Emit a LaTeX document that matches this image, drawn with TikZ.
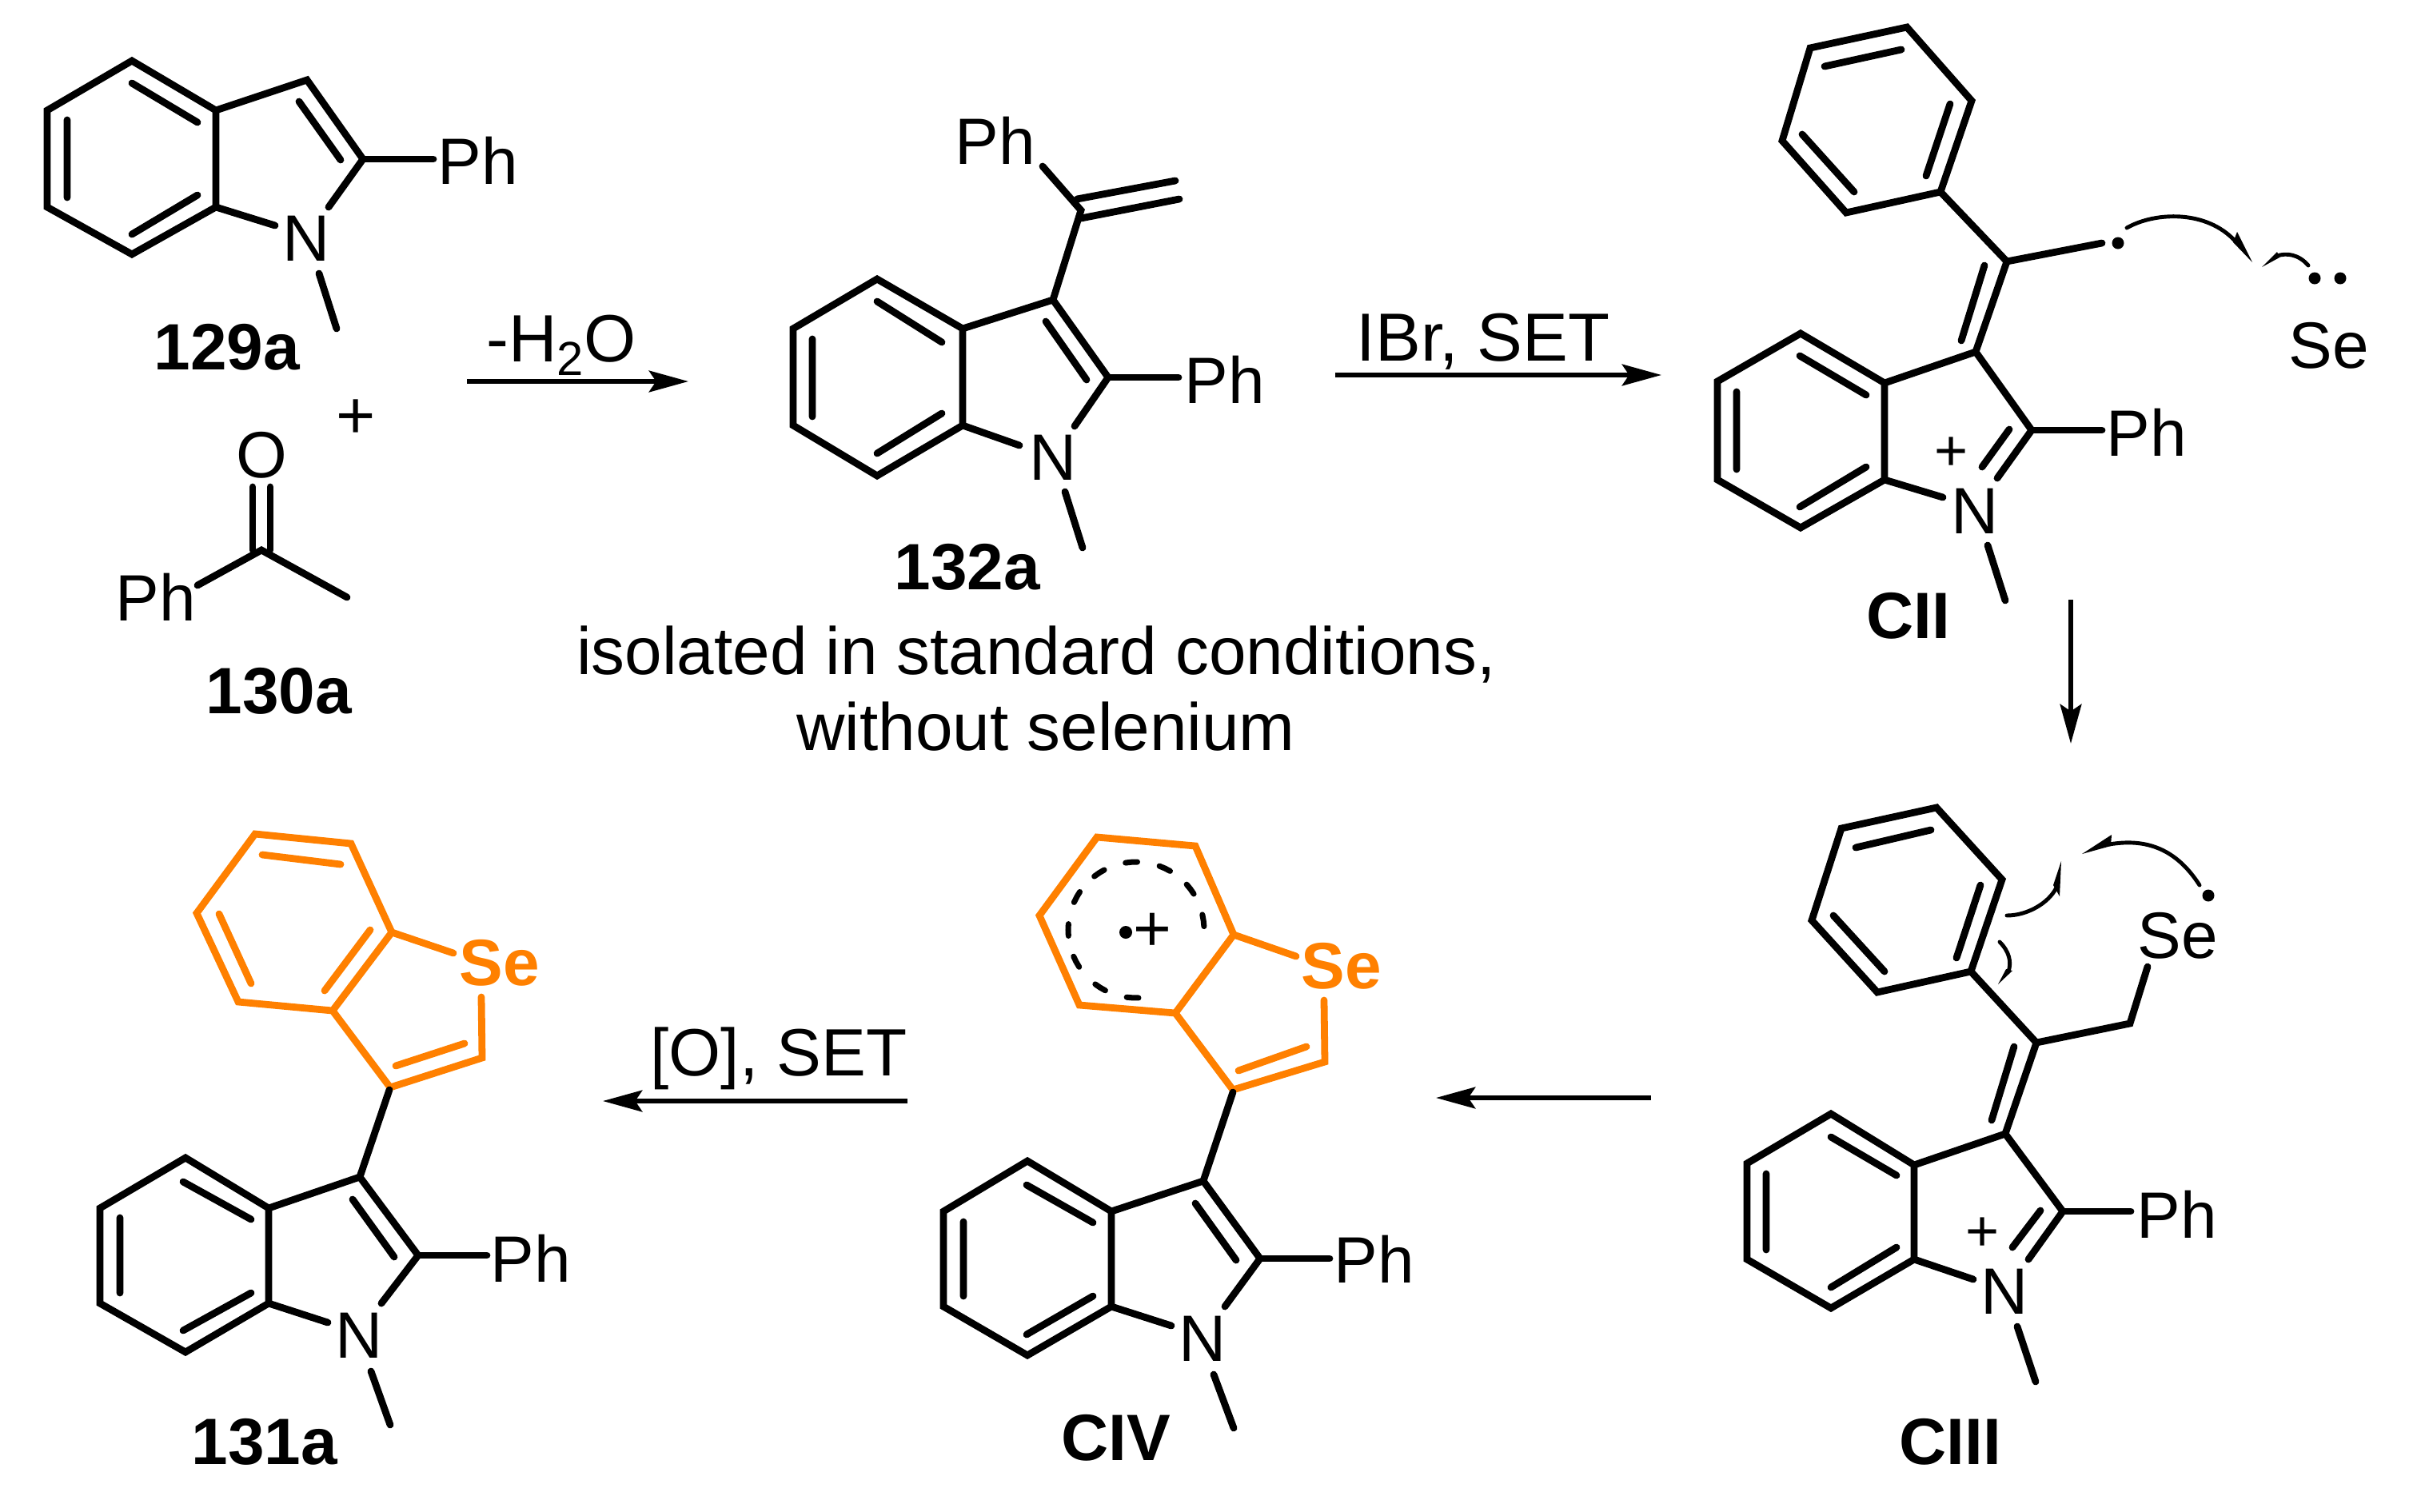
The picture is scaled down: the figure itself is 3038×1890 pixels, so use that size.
\documentclass[tikz,border=0pt]{standalone}
\usepackage{fontspec}
\setmainfont{Liberation Sans}
\usetikzlibrary{arrows.meta}
\newcommand\fs{\fontsize{23.3}{28}\selectfont}
\newcommand\fa{\fontsize{23.8}{28}\selectfont}
\definecolor{se}{HTML}{FF8000}
\tikzset{
  bond/.style={line width=2.5pt,line cap=round,line join=miter},
  obond/.style={bond,draw=se},
  txt/.style={inner sep=0pt,anchor=base,font=\fs},
  ann/.style={inner sep=0pt,anchor=base,font=\fa},
  lab/.style={inner sep=0pt,anchor=base,font=\fs\bfseries},
  selab/.style={inner sep=0pt,anchor=base,font=\fs\bfseries,text=se},
  pl/.style={inner sep=0pt,anchor=center,font=\fontsize{20.5}{24}\selectfont},
  rxn/.style={line width=1.6pt,-{Stealth[length=14pt,width=7.6pt,inset=2.5pt]}},
  hook/.style={line width=1.4pt,line cap=round},
}
\begin{document}
\begin{tikzpicture}[x=0.01cm,y=-0.01cm]
\useasboundingbox (0,0) rectangle (3038,1890);
% ---------- 129a
\draw[bond] (165,76)--(59,138)--(59,259)--(165,318)--(270,259)--(270,138)--cycle;
\draw[bond] (270,138)--(384,100)--(454,199)--(411,259);
\draw[bond] (270,259)--(344,282);
\draw[bond] (454,199)--(542,199);
\draw[bond] (399,342)--(421,411);
\draw[bond] (165,104)--(247,153) (84,150)--(84,247) (165,293)--(247,244) (374,127)--(426,200);
\node[txt] (ph1) at (598,230) {Ph};
\node[txt] (n1) at (383,326) {N};
\node[lab] (l129) at (284,462) {129a};
\node[pl,font=\fontsize{24}{28}\selectfont] (plus) at (445,524) {+};
% ---------- 130a
\node[txt] (o130) at (327,597) {O};
\draw[bond] (316,609)--(316,688) (338,609)--(338,688);
\draw[bond] (247,732)--(327,688)--(434,747);
\node[txt] (ph2) at (195,776) {Ph};
\node[lab] (l130) at (349,892) {130a};
% ---------- arrow 1
\coordinate (a1s) at (584,477); \coordinate (a1e) at (861,477);
\draw[rxn] (a1s)--(a1e);
\node[ann] (t1) at (702,452) {-H\raisebox{-5pt}{\fontsize{17}{20}\selectfont 2}O};
% ---------- 132a
\draw[bond] (1097,349)--(992,411)--(992,532)--(1097,595)--(1204,532)--(1204,411)--cycle;
\draw[bond] (1204,411)--(1317,375)--(1386,472)--(1344,533);
\draw[bond] (1204,532)--(1275,557);
\draw[bond] (1386,472)--(1474,472);
\draw[bond] (1332,615)--(1354,685);
\draw[bond] (1097,377)--(1178,428) (1016,424)--(1016,521) (1097,567)--(1178,517) (1308,402)--(1359,475);
\draw[bond] (1317,375)--(1352,263)--(1304,208);
\draw[bond] (1347,249)--(1470,226) (1352,273)--(1475,249);
\node[txt] (ph3) at (1245,205) {Ph};
\node[txt] (ph4) at (1532,504) {Ph};
\node[txt] (n3) at (1317,600) {N};
\node[lab] (l132) at (1210,737) {132a};
\node[ann] (c1) at (1296,843) {isolated in standard conditions,};
\node[ann] (c2) at (1308,938) {without selenium};
% ---------- arrow 2
\coordinate (a2s) at (1670,469); \coordinate (a2e) at (2078,469);
\draw[rxn] (a2s)--(a2e);
\node[ann,font=\fontsize{24.2}{28}\selectfont] (t2) at (1855,451) {IBr, SET};
% ---------- CII
\draw[bond] (2385,34)--(2264,60)--(2229,176)--(2309,266)--(2427,240)--(2466,126)--cycle;
\draw[bond] (2282,83)--(2378,62) (2254,168)--(2319,240) (2409,220)--(2439,130);
\draw[bond] (2427,240)--(2510,327)--(2629,304);
\draw[bond] (2510,327)--(2471,440) (2453,426)--(2482,332);
\draw[bond] (2252,417)--(2148,477)--(2148,600)--(2252,660)--(2357,600)--(2357,479)--cycle;
\draw[bond] (2251,445)--(2334,494) (2172,490)--(2172,587) (2251,634)--(2334,584);
\draw[bond] (2357,479)--(2471,440)--(2541,538)--(2498,598);
\draw[bond] (2513,537)--(2479,584);
\draw[bond] (2357,600)--(2430,622);
\draw[bond] (2541,538)--(2629,538);
\draw[bond] (2486,682)--(2508,751);
\node[txt] (ph5) at (2685,570) {Ph};
\node[txt] (n5) at (2470,667) {N};
\node[pl] (p5) at (2441,568) {+};
\node[lab] (lc2) at (2387,798) {CII};
\node[txt] (se5) at (2913,460) {Se};
\fill (2649,304) circle[radius=7.5];
\fill (2895,348) circle[radius=7.5];
\fill (2927,348) circle[radius=7.5];
\draw[hook] (2660,285) .. controls (2695,265) and (2760,262) .. (2796,302);
\fill (2817,328)--(2798,290)--(2793,303)--cycle;
\draw[hook] (2887,332) .. controls (2875,318) and (2860,316) .. (2848,320);
\fill (2829,334)--(2848,315)--(2851,322)--cycle;
% ---------- arrow 3
\coordinate (a3s) at (2590,750); \coordinate (a3e) at (2590,930);
\draw[rxn] (a3s)--(a3e);
% ---------- CIII
\draw[bond] (2422,1010)--(2303,1036)--(2266,1151)--(2348,1241)--(2465,1215)--(2504,1100)--cycle;
\draw[bond] (2321,1060)--(2415,1038) (2293,1145)--(2357,1215) (2447,1198)--(2477,1107);
\draw[bond] (2465,1215)--(2547,1304)--(2664,1280)--(2686,1209);
\draw[bond] (2547,1304)--(2508,1418) (2491,1401)--(2519,1309);
\draw[bond] (2290,1393)--(2185,1455)--(2185,1575)--(2290,1636)--(2394,1575)--(2394,1457)--cycle;
\draw[bond] (2290,1422)--(2372,1470) (2209,1468)--(2209,1563) (2290,1610)--(2372,1560);
\draw[bond] (2394,1457)--(2508,1418)--(2580,1515)--(2537,1575);
\draw[bond] (2552,1514)--(2517,1560);
\draw[bond] (2394,1575)--(2468,1600);
\draw[bond] (2580,1515)--(2665,1515);
\draw[bond] (2523,1659)--(2546,1728);
\node[txt] (ph6) at (2723,1548) {Ph};
\node[txt] (n6) at (2507,1643) {N};
\node[pl] (p6) at (2480,1544) {+};
\node[txt] (se6) at (2724,1198) {Se};
\node[lab] (lc3) at (2439,1831) {CIII};
\fill (2762,1120) circle[radius=7.5];
\draw[hook] (2751,1107) .. controls (2722,1062) and (2685,1048) .. (2638,1056);
\fill (2604,1068)--(2641,1044)--(2640,1058)--cycle;
\draw[hook] (2510,1145) .. controls (2535,1145) and (2562,1130) .. (2572,1110);
\fill (2578,1077)--(2576,1121)--(2568,1107)--cycle;
\draw[hook] (2501,1178) .. controls (2513,1190) and (2516,1203) .. (2512,1215);
\fill (2499,1231)--(2517,1214)--(2509,1212)--cycle;
% ---------- arrow 4
\coordinate (a4s) at (2065,1373); \coordinate (a4e) at (1796,1373);
\draw[rxn] (a4s)--(a4e);
% ---------- CIV
\draw[obond] (1372,1047)--(1495,1058)--(1543,1169)--(1470,1267)--(1350,1257)--(1300,1145)--cycle;
\draw[obond] (1470,1267)--(1542,1363)--(1657,1328)--(1656,1251);
\draw[obond] (1543,1169)--(1621,1196);
\draw[obond] (1549,1339)--(1634,1309);
\foreach \a in {8,37,65,94,123,151,180,208,238,267}
  \draw[line width=2pt,line cap=round] ({1421+85*cos(\a-5)},{1163-85*sin(\a-5)})--({1421+85*cos(\a)},{1163-85*sin(\a)})--({1421+85*cos(\a+5)},{1163-85*sin(\a+5)});
\fill (1408,1166) circle[radius=8];
\node[pl,font=\fontsize{23.3}{28}\selectfont] (p7) at (1441,1166) {+};
\node[selab] (se7) at (1678,1236) {Se};
\draw[bond] (1542,1366)--(1505,1477);
\draw[bond] (1285,1452)--(1180,1515)--(1180,1634)--(1285,1695)--(1390,1634)--(1390,1515)--cycle;
\draw[bond] (1284,1482)--(1367,1529) (1205,1528)--(1205,1621) (1284,1669)--(1367,1621);
\draw[bond] (1390,1515)--(1505,1477)--(1576,1574)--(1532,1634);
\draw[bond] (1495,1505)--(1546,1576);
\draw[bond] (1390,1634)--(1465,1658);
\draw[bond] (1576,1574)--(1663,1574);
\draw[bond] (1518,1719)--(1543,1786);
\node[txt] (ph7) at (1719,1604) {Ph};
\node[txt] (n7) at (1504,1702) {N};
\node[lab] (lc4) at (1396,1826) {CIV};
% ---------- arrow 5
\coordinate (a5s) at (1135,1377); \coordinate (a5e) at (754,1377);
\draw[rxn] (a5s)--(a5e);
\node[ann] (t5) at (974,1345) {[O], SET};
% ---------- 131a
\draw[obond] (319,1043)--(439,1055)--(490,1166)--(416,1264)--(298,1253)--(246,1142)--cycle;
\draw[obond] (328,1069)--(426,1081) (274,1143)--(314,1230) (406,1239)--(463,1163);
\draw[obond] (416,1264)--(488,1360)--(603,1323)--(602,1247);
\draw[obond] (490,1166)--(567,1192);
\draw[obond] (495,1333)--(581,1305);
\node[selab] (se8) at (625,1232) {Se};
\draw[bond] (487,1363)--(450,1472);
\draw[bond] (232,1448)--(125,1511)--(125,1630)--(232,1691)--(336,1630)--(336,1511)--cycle;
\draw[bond] (229,1478)--(314,1525) (150,1523)--(150,1617) (229,1664)--(314,1617);
\draw[bond] (336,1511)--(450,1472)--(523,1570)--(477,1630);
\draw[bond] (441,1500)--(493,1572);
\draw[bond] (336,1630)--(410,1654);
\draw[bond] (523,1570)--(609,1570);
\draw[bond] (464,1715)--(488,1782);
\node[txt] (ph8) at (664,1603) {Ph};
\node[txt] (n8) at (449,1698) {N};
\node[lab] (l131) at (331,1831) {131a};
\end{tikzpicture}
\end{document}
